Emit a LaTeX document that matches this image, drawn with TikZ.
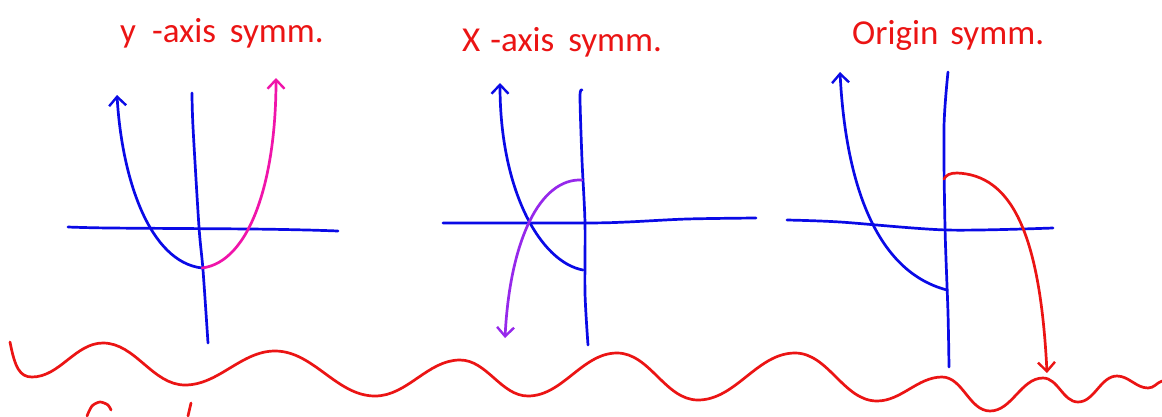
\documentclass[tikz,border=0pt]{standalone}
\usepackage{fontspec}
\setmainfont{Carlito}
\usetikzlibrary{arrows.meta}
\definecolor{penblue}{RGB}{10,10,230}
\definecolor{penred}{RGB}{235,20,20}
\definecolor{penpink}{RGB}{240,20,170}
\definecolor{penpurple}{RGB}{150,40,235}
\tikzset{
  pen/.style={line width=2.7pt, line cap=round, line join=round},
  axisline/.style={pen, penblue},
  tip/.style={-{Straight Barb[length=9pt,width=17pt,line width=2.4pt]}},
  title/.style={penred, font=\fontsize{35}{40}\selectfont, anchor=base west, inner sep=0pt},
  wv/.style={out=0,in=180,looseness=0.9},
}
\begin{document}
\begin{tikzpicture}[x=1pt,y=-1pt]
\useasboundingbox (0,0) rectangle (1162,416);
\fill[white] (0,0) rectangle (1162,416);

% titles
\node[title] (t1) at (120,42) {y\hspace{16pt}-axis\hspace{6pt} symm.};
\node[title] (t2) at (462,51) {X\hspace{10pt}-axis\hspace{6pt} symm.};
\node[title] (t3) at (852,44) {Origin\hspace{4pt} symm.};

% ---------- graph 1: y-axis symmetry ----------
\draw[axisline] plot[smooth] coordinates {(68,227) (110,228) (250,229) (307,230) (338,231)};
\draw[axisline] plot[smooth] coordinates {(192,93) (193,127) (199,227) (203,270) (208,343)};
\draw[pen, penblue, tip] (202,268) .. controls (150,262) and (122,180) .. (117,95);
\draw[pen, penpink, tip] (202,268) .. controls (250,262) and (276,180) .. (276,78);

% ---------- graph 2: x-axis symmetry ----------
\draw[axisline] plot[smooth] coordinates {(443,223) (585,223) (627,222) (687,219) (756,218)};
\draw[axisline] plot[smooth] coordinates {(582,90) (580,97) (582,160) (585,223) (585,293) (588,345)};
\draw[pen, penblue, tip] (583,270) .. controls (540,262) and (500,190) .. (500,83);
\draw[pen, penpurple, tip] (582,180) .. controls (540,178) and (510,240) .. (505,338);

% ---------- graph 3: origin symmetry ----------
\draw[axisline] plot[smooth] coordinates {(787,220) (840,222) (947,230) (1053,228)};
\draw[axisline] plot[smooth] coordinates {(948,72) (944,127) (945,227) (948,313) (949,367)};
\draw[pen, penblue, tip] (947,290) .. controls (870,270) and (845,170) .. (840,72);
\draw[pen, penred, tip] (944,179) .. controls (946,175) and (950,173) .. (957,173)
   .. controls (1010,175) and (1040,230) .. (1047,373);

% ---------- wavy separator ----------
\draw[pen, penred] (10,342) .. controls (15,368) and (20,377) .. (32,377)
  to[wv] (103,343) to[wv] (185,385) to[wv] (275,351) to[wv] (375,396)
  to[wv] (460,360) to[wv] (528,396) to[wv] (617,353) to[wv] (698,400)
  to[wv] (795,353) to[wv] (877,401) to[wv] (942,377) to[wv] (990,411)
  to[wv] (1043,378) to[wv] (1078,402) to[wv] (1117,376) to[wv] (1148,388)
  to[out=0,in=200] (1162,381);

% cut-off fragments at the bottom edge
\draw[pen, penred] plot[smooth] coordinates {(87,416) (92,406) (100,402) (108,405) (111,410)};
\draw[pen, penred] (191,403) -- (188,416);
\end{tikzpicture}
\end{document}
